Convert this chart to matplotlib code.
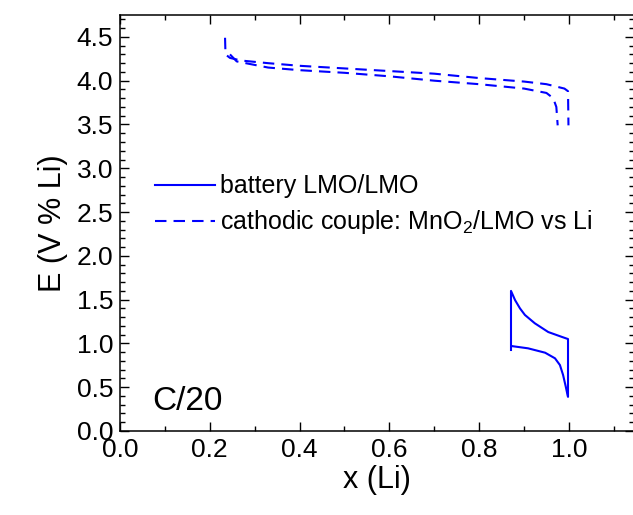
import numpy as np
import matplotlib
matplotlib.use('Agg')
import matplotlib.pyplot as plt
from matplotlib.ticker import MultipleLocator

plt.rcParams['font.family'] = ['Liberation Sans', 'DejaVu Sans']
plt.rcParams['mathtext.default'] = 'regular'

# cathodic couple MnO2/LMO vs Li (dashed), two branches
cat_up_x = [0.234, 0.235, 0.245, 0.27, 0.33, 0.40, 0.50, 0.60, 0.70, 0.80, 0.90, 0.95, 0.99, 0.998, 0.999]
cat_up_y = [4.49, 4.30, 4.26, 4.23, 4.20, 4.17, 4.14, 4.11, 4.08, 4.03, 3.99, 3.96, 3.91, 3.88, 3.49]
cat_dn_x = [0.245, 0.26, 0.33, 0.40, 0.50, 0.60, 0.70, 0.80, 0.90, 0.95, 0.965, 0.972, 0.975]
cat_dn_y = [4.30, 4.22, 4.15, 4.12, 4.09, 4.05, 4.00, 3.96, 3.91, 3.86, 3.80, 3.70, 3.49]

# battery LMO/LMO (solid)
bat_x = [0.871, 0.871, 0.880, 0.891, 0.902, 0.924, 0.954, 0.984, 0.998,
         0.998, 0.997, 0.993, 0.987, 0.980, 0.969, 0.947, 0.909, 0.872]
bat_y = [0.925, 1.60, 1.495, 1.40, 1.325, 1.23, 1.13, 1.075, 1.05,
         0.39, 0.41, 0.506, 0.64, 0.753, 0.83, 0.894, 0.944, 0.97]

blue = '#0000ff'

fig = plt.figure(figsize=(6.33, 5.15), dpi=100)
ax = fig.add_axes([120/633, 1-431/515, 514/633, 416/515])

ax.plot(bat_x, bat_y, color=blue, lw=1.5, label='battery LMO/LMO')
ax.plot(cat_up_x, cat_up_y, color=blue, lw=1.5, dashes=(5.5, 3.4),
        label=r'cathodic couple: MnO$_2$/LMO vs Li')
ax.plot(cat_dn_x, cat_dn_y, color=blue, lw=1.5, dashes=(5.5, 3.4))

ax.set_xlim(0, 1.145)
ax.set_ylim(0, 4.75)
ax.xaxis.set_major_locator(MultipleLocator(0.2))
ax.xaxis.set_minor_locator(MultipleLocator(0.1))
ax.yaxis.set_major_locator(MultipleLocator(0.5))
ax.yaxis.set_minor_locator(MultipleLocator(0.1))
ax.tick_params(which='both', direction='in', top=True, right=True, width=1)
ax.tick_params(which='major', length=6.5, labelsize=19, pad=5)
ax.tick_params(which='minor', length=3.5)
for s in ax.spines.values():
    s.set_linewidth(1.1)
ax.spines['right'].set_visible(False)

ax.set_xlabel('x (Li)', fontsize=22, labelpad=2)
ax.set_ylabel('E (V % Li)', fontsize=22, labelpad=6)

ax.text(0.063, 0.05, 'C/20', fontsize=24, transform=ax.transAxes)

ax.legend(loc='upper left', bbox_to_anchor=(0.068, 0.617), frameon=False,
          fontsize=18, handlelength=2.4, handletextpad=0.2,
          borderpad=0, borderaxespad=0, labelspacing=0.4)

fig.savefig('out.png', dpi=100)
